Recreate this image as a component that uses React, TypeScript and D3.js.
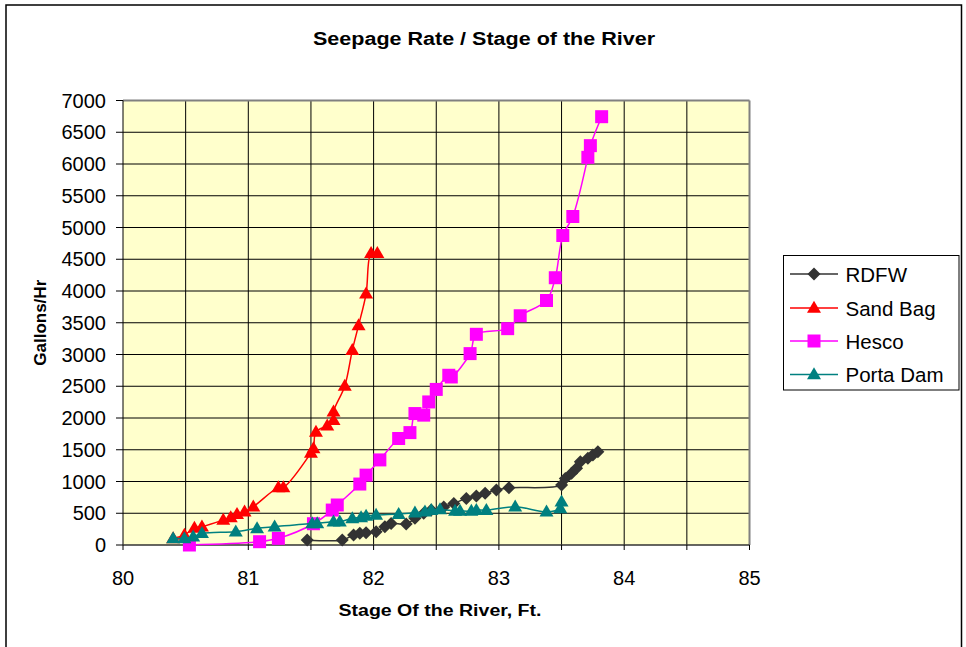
import React from "react";
import * as d3 from "d3";

type Pt = [number, number];

const xTicks = [80, 81, 82, 83, 84, 85];
const yTicks = [0, 500, 1000, 1500, 2000, 2500, 3000, 3500, 4000, 4500, 5000, 5500, 6000, 6500, 7000];

const rdfw: Pt[] = [
  [81.47, 80], [81.75, 80], [81.84, 157], [81.89, 184], [81.94, 194], [82.02, 210],
  [82.09, 288], [82.14, 340], [82.26, 330], [82.33, 420], [82.4, 500], [82.46, 550],
  [82.56, 600], [82.64, 655], [82.74, 734], [82.82, 770], [82.89, 813], [82.98, 865],
  [83.08, 900], [83.5, 943], [83.53, 1048], [83.58, 1128], [83.62, 1207], [83.65, 1312],
  [83.71, 1365], [83.75, 1417], [83.79, 1469],
];

const sandBag: Pt[] = [
  [80.4, 105], [80.49, 157], [80.57, 267], [80.63, 288], [80.8, 393], [80.86, 435],
  [80.91, 487], [80.97, 524], [81.04, 602], [81.24, 907], [81.28, 907], [81.5, 1450],
  [81.52, 1520], [81.54, 1781], [81.63, 1880], [81.68, 1965], [81.68, 2100], [81.77, 2505],
  [81.83, 3066], [81.88, 3459], [81.94, 3956], [81.98, 4596], [82.03, 4596],
];

const hesco: Pt[] = [
  [80.53, 0], [81.09, 52], [81.24, 105], [81.52, 335], [81.67, 550], [81.71, 630],
  [81.89, 960], [81.94, 1100], [82.05, 1340], [82.2, 1677], [82.29, 1770], [82.33, 2070],
  [82.4, 2045], [82.44, 2253], [82.5, 2450], [82.6, 2673], [82.62, 2646], [82.77, 3014],
  [82.82, 3318], [83.07, 3407], [83.17, 3610], [83.38, 3850], [83.45, 4209], [83.51, 4874],
  [83.59, 5173], [83.71, 6105], [83.73, 6289], [83.82, 6745],
];

const portaDam: Pt[] = [
  [80.4, 105], [80.49, 105], [80.56, 130], [80.63, 184], [80.9, 210], [81.07, 262],
  [81.21, 288], [81.51, 340], [81.55, 340], [81.68, 367], [81.73, 367], [81.83, 420],
  [81.9, 435], [81.94, 456], [82.02, 472], [82.2, 487], [82.33, 508], [82.41, 524],
  [82.46, 550], [82.53, 561], [82.65, 535], [82.69, 535], [82.78, 535], [82.82, 550],
  [82.9, 550], [83.13, 602], [83.38, 524], [83.49, 577], [83.5, 680],
];

const seriesNames = ["RDFW", "Sand Bag", "Hesco", "Porta Dam"];
const seriesData = [rdfw, sandBag, hesco, portaDam];
const seriesColors = ["#333333", "#FF0000", "#FF00FF", "#008080"];
const seriesMarkers = ["diamond", "triangle", "square", "triangle"];

const W = 966;
const H = 647;
const left = 123;
const right = 749.5;
const top = 100.5;
const bottom = 545;

function markerPath(kind: string, cx: number, cy: number): string {
  if (kind === "diamond") {
    const r = 6.5;
    return `M${cx},${cy - r}L${cx + r},${cy}L${cx},${cy + r}L${cx - r},${cy}Z`;
  }
  if (kind === "square") {
    const r = 6.5;
    return `M${cx - r},${cy - r}H${cx + r}V${cy + r}H${cx - r}Z`;
  }
  const hw = 7;
  const h = 12;
  return `M${cx},${cy - h * 0.6}L${cx + hw},${cy + h * 0.4}L${cx - hw},${cy + h * 0.4}Z`;
}

export default function App() {
  const x = d3.scaleLinear().domain([80, 85]).range([left, right]);
  const y = d3.scaleLinear().domain([0, 7000]).range([bottom, top]);
  const line = d3
    .line<Pt>()
    .x((d) => x(d[0]))
    .y((d) => y(d[1]))
    .curve(d3.curveCatmullRom.alpha(0.5));

  const vGrid = d3.range(80.5, 85, 0.5);
  const hGrid = yTicks.filter((t) => t > 0 && t < 7000);
  const xMinorTicks = d3.range(80, 85.001, 0.5);

  const font = "'Liberation Sans', Arial, sans-serif";
  const legendY = [274, 308, 341, 374.5];

  return (
    <svg
      width={W}
      height={H}
      style={{ position: "absolute", left: 0, top: 0, background: "#fff" }}
      fontFamily={font}
    >
      <rect x={0} y={0} width={W} height={H} fill="#fff" />
      <rect x={6} y={5} width={955.5} height={700} fill="none" stroke="#000" strokeWidth={1.5} />

      <text
        x={484}
        y={45}
        textAnchor="middle"
        fontWeight="bold"
        fontSize={18}
        textLength={342}
        lengthAdjust="spacingAndGlyphs"
      >
        Seepage Rate / Stage of the River
      </text>

      <rect x={left} y={top} width={right - left} height={bottom - top} fill="#FFFFCC" />

      {vGrid.map((v) => (
        <line key={"v" + v} x1={x(v)} x2={x(v)} y1={top} y2={bottom} stroke="#000" strokeWidth={1} />
      ))}
      {hGrid.map((v) => (
        <line key={"h" + v} x1={left} x2={right} y1={y(v)} y2={y(v)} stroke="#000" strokeWidth={1} />
      ))}

      <line x1={left} x2={right} y1={top} y2={top} stroke="#808080" strokeWidth={2} />
      <line x1={right} x2={right} y1={top} y2={bottom} stroke="#808080" strokeWidth={2} />
      <line x1={left} x2={left} y1={top} y2={bottom} stroke="#000" strokeWidth={1} />
      <line x1={left} x2={right} y1={bottom} y2={bottom} stroke="#333" strokeWidth={1.5} />

      {yTicks.map((t) => (
        <g key={"yt" + t}>
          <line x1={left - 7} x2={left} y1={y(t)} y2={y(t)} stroke="#000" strokeWidth={1} />
          <text x={106} y={y(t) + 7} textAnchor="end" fontSize={20} fill="#000">
            {t}
          </text>
        </g>
      ))}
      {xMinorTicks.map((t) => (
        <line key={"xt" + t} x1={x(t)} x2={x(t)} y1={bottom} y2={bottom + 5} stroke="#000" strokeWidth={1} />
      ))}
      {xTicks.map((t) => (
        <text key={"xl" + t} x={x(t)} y={585} textAnchor="middle" fontSize={20} fill="#000">
          {t}
        </text>
      ))}

      <text
        x={440}
        y={616}
        textAnchor="middle"
        fontWeight="bold"
        fontSize={16}
        textLength={203}
        lengthAdjust="spacingAndGlyphs"
      >
        Stage Of the River, Ft.
      </text>
      <text
        transform={`translate(46,${(top + bottom) / 2}) rotate(-90)`}
        textAnchor="middle"
        fontWeight="bold"
        fontSize={16}
        textLength={86}
        lengthAdjust="spacingAndGlyphs"
      >
        Gallons/Hr
      </text>

      {seriesData.map((data, i) => (
        <g key={"s" + i}>
          <path d={line(data) || ""} fill="none" stroke={seriesColors[i]} strokeWidth={1.5} />
          {data.map((d, j) => (
            <path key={j} d={markerPath(seriesMarkers[i], x(d[0]), y(d[1]))} fill={seriesColors[i]} />
          ))}
        </g>
      ))}

      <rect x={783.5} y={255.5} width={175.5} height={134.5} fill="#fff" stroke="#000" strokeWidth={1} />
      {seriesNames.map((name, i) => (
        <g key={"lg" + i}>
          <line x1={790} x2={838} y1={legendY[i]} y2={legendY[i]} stroke={seriesColors[i]} strokeWidth={1.5} />
          <path d={markerPath(seriesMarkers[i], 814, legendY[i])} fill={seriesColors[i]} />
          <text x={845.5} y={legendY[i] + 7.5} fontSize={20.5} fill="#000">
            {name}
          </text>
        </g>
      ))}
    </svg>
  );
}
